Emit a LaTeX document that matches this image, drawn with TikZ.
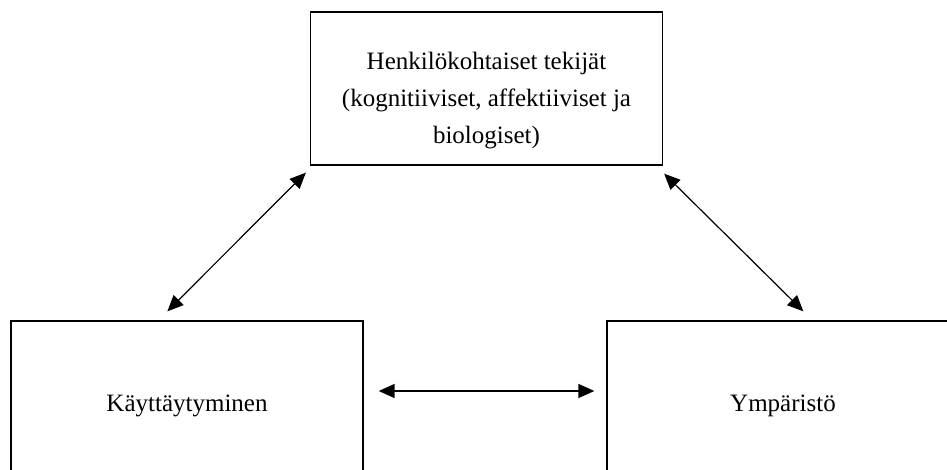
\documentclass[tikz,border=0pt]{standalone}
\usepackage{fontspec}
\setmainfont{Liberation Serif}
\usetikzlibrary{arrows.meta, calc}

\begin{document}
\begin{tikzpicture}[x=1pt, y=-1pt,
        box/.style={draw, line width=1.3pt, minimum width=352pt, inner sep=0pt},
        txt/.style={font=\fontsize{25}{37}\selectfont, align=center, inner sep=0pt},
        both/.style={{Triangle[length=16pt,width=14pt]}-{Triangle[length=16pt,width=14pt]}, line width=1.2pt}]
    \clip (0,0) rectangle (947,470);
    \node[box, minimum height=153pt] (henk) at (486.5,88.5) {};
    \node[txt] (henkteksti) at ($(henk.center)+(0,12)$) {Henkilökohtaiset tekijät\\(kognitiiviset, affektiiviset ja\\biologiset)};
    \node[box, txt, minimum height=170pt] (kayt) at (187,406) {Käyttäytyminen};
    \node[box, txt, minimum height=170pt] (ymp) at (783,406) {Ympäristö};
    \coordinate (hv) at ($(henk.south west)+(-4,7)$);
    \coordinate (ko) at ($(kayt.north west)+(157,-9)$);
    \coordinate (ho) at ($(henk.south east)+(1,8)$);
    \coordinate (yv) at ($(ymp.north west)+(197,-9)$);
    \coordinate (kv) at ($(kayt.east)+(15,-15)$);
    \coordinate (yo) at ($(ymp.west)+(-12,-15)$);
    \draw[both] (hv) -- (ko);
    \draw[both] (ho) -- (yv);
    \draw[both, line width=1.6pt] (kv) -- (yo);
\end{tikzpicture}
\end{document}
